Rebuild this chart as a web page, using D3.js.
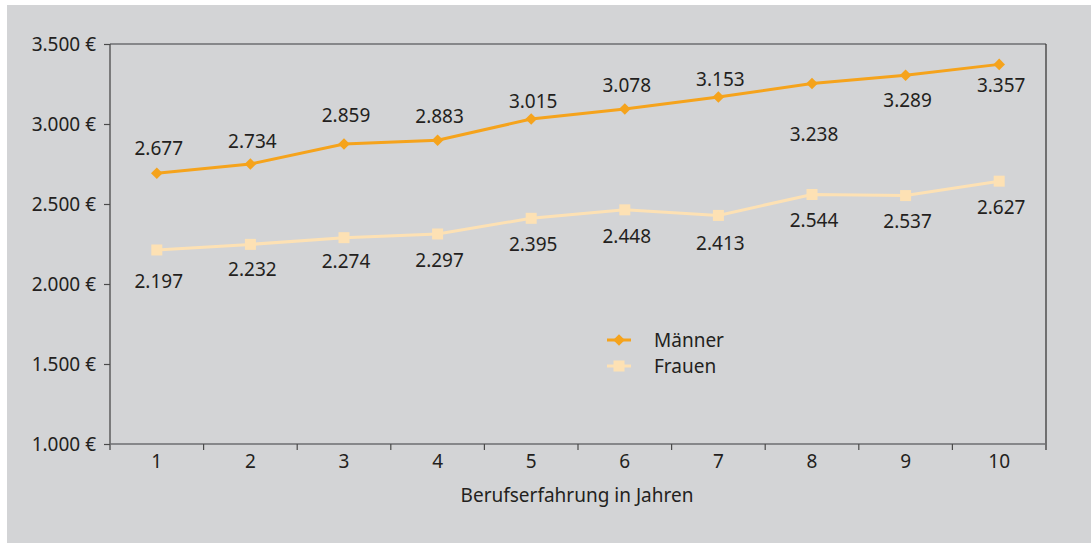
<!DOCTYPE html>
<html><head><meta charset="utf-8">
<script src="https://cdn.jsdelivr.net/npm/d3@7"></script>
<style>html,body{margin:0;padding:0;background:#fff;}svg{display:block;}</style>
</head><body>
<svg id="c" width="1091" height="543"></svg>
<script>
const categories = ["1","2","3","4","5","6","7","8","9","10"];
const maenner = [2677,2734,2859,2883,3015,3078,3153,3238,3289,3357];
const frauen = [2197,2232,2274,2297,2395,2448,2413,2544,2537,2627];
const yTicks = [1000,1500,2000,2500,3000,3500];
const seriesNames = ["Männer","Frauen"];
const xTitle = "Berufserfahrung in Jahren";
// label placement offsets (px) relative to points
const maennerLabelDy = [-25,-23,-29,-24,-18,-24,-18,51,25,21];
const frauenLabelDy = [31,25,24,26,26,27,28,26,26,26];

const svg = d3.select("#c");
const FONT = "'Noto Sans', sans-serif";
const FS = 19;
const txt = "#231f20";
svg.append("rect").attr("x",7).attr("y",5).attr("width",1084).attr("height",538).attr("fill","#d3d4d6");

const L=110, R=1046, T=44, B=444;
const x = d3.scaleBand().domain(categories).range([L,R]);
const y = d3.scaleLinear().domain([1000,3500]).range([B-2.5,T-2.5]);
const yAx = d3.scaleLinear().domain([1000,3500]).range([B,T]);

svg.append("line").attr("x1",L).attr("x2",R).attr("y1",T).attr("y2",T).attr("stroke","#6d6e70").attr("stroke-width",1.3);
svg.append("line").attr("x1",R).attr("x2",R).attr("y1",T).attr("y2",B+6).attr("stroke","#3a3a3a").attr("stroke-width",1.3);

const fmt = d => d3.format(",")(d).replace(/,/g,".");
const gy = svg.append("g").attr("transform",`translate(${L},0)`)
  .call(d3.axisLeft(yAx).tickValues(yTicks).tickSize(6).tickFormat(d=>fmt(d)+" €"));
gy.select(".domain").attr("stroke","#4a4a4a").attr("stroke-width",1.3).attr("d",`M0,${T}V${B+6}`);
gy.selectAll(".tick line").attr("stroke","#4a4a4a").attr("stroke-width",1.2);
gy.selectAll(".tick text").attr("font-family",FONT).attr("font-size",FS).attr("fill",txt).attr("x",-14).attr("dy","0.36em");

const gx = svg.append("g").attr("transform",`translate(0,${B})`)
  .call(d3.axisBottom(x).tickSize(0).tickFormat(d=>d));
gx.select(".domain").attr("stroke","#6d6e70").attr("stroke-width",1.5).attr("d",`M${L},0H${R}`);
gx.selectAll(".tick text").attr("font-family",FONT).attr("font-size",FS).attr("fill",txt).attr("dy","1.1em");
svg.append("g").selectAll("line").data(categories.slice(1)).join("line")
  .attr("x1",d=>x(d)).attr("x2",d=>x(d)).attr("y1",B).attr("y2",B+6).attr("stroke","#4a4a4a").attr("stroke-width",1.2);

svg.append("text").attr("x",(L+R)/2-1).attr("y",502).attr("text-anchor","middle")
  .attr("font-family",FONT).attr("font-size",FS).attr("fill",txt).text(xTitle);

const cx = d => x(d)+x.bandwidth()/2;
const line = d3.line().x((d,i)=>cx(categories[i])).y(d=>y(d));
const mCol="#f5a31c", fCol="#fde1b4";

svg.append("path").datum(frauen).attr("d",line).attr("fill","none").attr("stroke",fCol).attr("stroke-width",3);
svg.append("g").selectAll("rect").data(frauen).join("rect")
  .attr("x",(d,i)=>cx(categories[i])-5.5).attr("y",d=>y(d)-5.5).attr("width",11).attr("height",11).attr("fill",fCol);
svg.append("path").datum(maenner).attr("d",line).attr("fill","none").attr("stroke",mCol).attr("stroke-width",3);
const diamond = d3.symbol().type(d3.symbolDiamond2).size(85);
svg.append("g").selectAll("path").data(maenner).join("path")
  .attr("d",diamond).attr("transform",(d,i)=>`translate(${cx(categories[i])},${y(d)})`).attr("fill",mCol);

svg.append("g").selectAll("text").data(maenner).join("text")
  .attr("x",(d,i)=>cx(categories[i])+2).attr("y",(d,i)=>y(d)+maennerLabelDy[i]).attr("dy","0.35em")
  .attr("text-anchor","middle").attr("font-family",FONT).attr("font-size",FS).attr("fill",txt).text(fmt);
svg.append("g").selectAll("text").data(frauen).join("text")
  .attr("x",(d,i)=>cx(categories[i])+2).attr("y",(d,i)=>y(d)+frauenLabelDy[i]).attr("dy","0.35em")
  .attr("text-anchor","middle").attr("font-family",FONT).attr("font-size",FS).attr("fill",txt).text(fmt);

const lg = svg.append("g");
[[seriesNames[0],mCol,"d"],[seriesNames[1],fCol,"s"]].forEach((s,i)=>{
  const yy = 340 + i*26;
  lg.append("line").attr("x1",607).attr("x2",631).attr("y1",yy).attr("y2",yy).attr("stroke",s[1]).attr("stroke-width",3);
  if(s[2]==="d") lg.append("path").attr("d",diamond).attr("transform",`translate(619,${yy})`).attr("fill",s[1]);
  else lg.append("rect").attr("x",613.5).attr("y",yy-5.5).attr("width",11).attr("height",11).attr("fill",s[1]);
  lg.append("text").attr("x",654).attr("y",yy).attr("dy","0.35em").attr("font-family",FONT).attr("font-size",FS).attr("fill",txt).text(s[0]);
});
</script>
</body></html>
